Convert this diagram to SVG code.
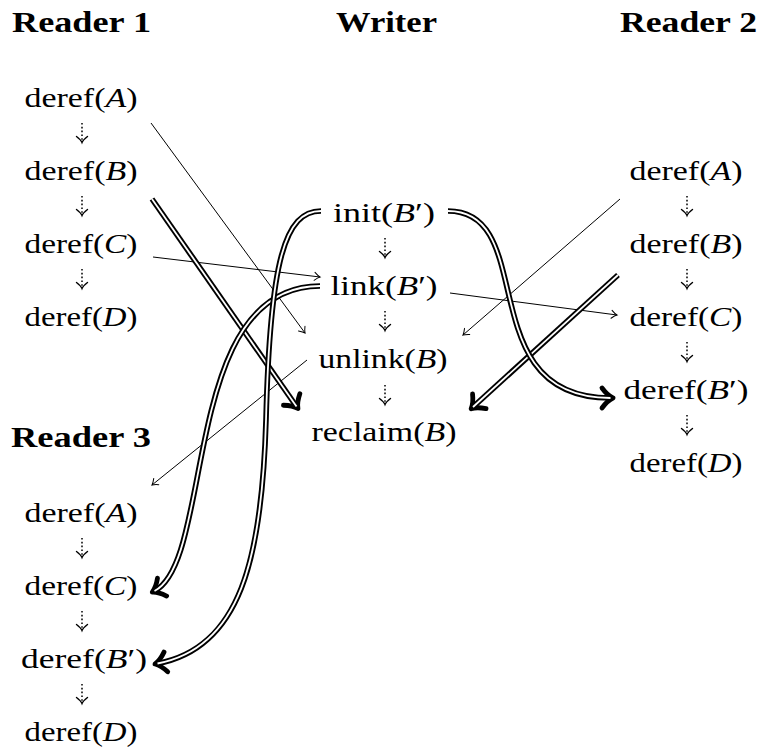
<svg xmlns="http://www.w3.org/2000/svg" width="760" height="755" viewBox="0 0 760 755">
<style>
text{font-family:"Liberation Serif","DejaVu Serif",serif;fill:#000}
.h{font-size:30px;font-weight:bold}
.t{font-size:28px;text-anchor:middle}
.i{font-style:italic}
.thin{fill:none;stroke:#000;stroke-width:1;marker-end:url(#mt)}
.dot{fill:none;stroke:#000;stroke-width:1.5;stroke-dasharray:1.6 2.2;marker-end:url(#md)}
.dblo{fill:none;stroke:#000;stroke-width:5.6;marker-end:url(#mb)}
.dbli{fill:none;stroke:#fff;stroke-width:1.8}
</style>
<defs>
<marker id="mt" viewBox="-10 -10 20 20" markerWidth="20" markerHeight="20" refX="0" refY="0" orient="auto" markerUnits="userSpaceOnUse" overflow="visible">
<path d="M-5.5,-4 Q-2,-0.8 0,0 Q-2,0.8 -5.5,4" fill="none" stroke="#000" stroke-width="1" stroke-linecap="round"/>
</marker>
<marker id="md" viewBox="-10 -10 20 20" markerWidth="20" markerHeight="20" refX="0" refY="0" orient="auto" markerUnits="userSpaceOnUse" overflow="visible">
<path d="M-5.5,-5.5 Q-2,-1 0.5,0 Q-2,1 -5.5,5.5" fill="none" stroke="#000" stroke-width="1.4" stroke-linecap="round"/>
</marker>
<marker id="mb" viewBox="-15 -15 30 30" markerWidth="30" markerHeight="30" refX="0" refY="0" orient="auto" markerUnits="userSpaceOnUse" overflow="visible">
<path d="M-8.5,-10 Q-3,-2.5 2.5,0 Q-3,2.5 -8.5,10" fill="none" stroke="#000" stroke-width="4.8" stroke-linecap="round" stroke-linejoin="round"/>
</marker>
</defs>

<g id="headers">
<text class="h" x="12" y="32" textLength="139" lengthAdjust="spacingAndGlyphs">Reader 1</text>
<text class="h" x="336" y="32" textLength="101" lengthAdjust="spacingAndGlyphs">Writer</text>
<text class="h" x="620" y="32" textLength="137" lengthAdjust="spacingAndGlyphs">Reader 2</text>
<text class="h" x="11" y="447" textLength="140" lengthAdjust="spacingAndGlyphs">Reader 3</text>
</g>

<g id="r1a"><text class="t" x="81" y="107" textLength="113" lengthAdjust="spacingAndGlyphs">deref(<tspan class="i">A</tspan>)</text></g>
<g id="r1b"><text class="t" x="81" y="180" textLength="113" lengthAdjust="spacingAndGlyphs">deref(<tspan class="i">B</tspan>)</text></g>
<g id="r1c"><text class="t" x="81" y="253" textLength="113" lengthAdjust="spacingAndGlyphs">deref(<tspan class="i">C</tspan>)</text></g>
<g id="r1d"><text class="t" x="81" y="326" textLength="113" lengthAdjust="spacingAndGlyphs">deref(<tspan class="i">D</tspan>)</text></g>

<g id="winit"><text class="t" x="384" y="222" textLength="102" lengthAdjust="spacingAndGlyphs">init(<tspan class="i">B</tspan>′)</text></g>
<g id="wlink"><text class="t" x="384" y="295" textLength="107" lengthAdjust="spacingAndGlyphs">link(<tspan class="i">B</tspan>′)</text></g>
<g id="wunlink"><text class="t" x="383" y="368" textLength="129" lengthAdjust="spacingAndGlyphs">unlink(<tspan class="i">B</tspan>)</text></g>
<g id="wreclaim"><text class="t" x="384" y="441" textLength="145" lengthAdjust="spacingAndGlyphs">reclaim(<tspan class="i">B</tspan>)</text></g>

<g id="r2a"><text class="t" x="686" y="180" textLength="113" lengthAdjust="spacingAndGlyphs">deref(<tspan class="i">A</tspan>)</text></g>
<g id="r2b"><text class="t" x="686" y="253" textLength="113" lengthAdjust="spacingAndGlyphs">deref(<tspan class="i">B</tspan>)</text></g>
<g id="r2c"><text class="t" x="686" y="326" textLength="113" lengthAdjust="spacingAndGlyphs">deref(<tspan class="i">C</tspan>)</text></g>
<g id="r2bp"><text class="t" x="686" y="399" textLength="125" lengthAdjust="spacingAndGlyphs">deref(<tspan class="i">B</tspan>′)</text></g>
<g id="r2d"><text class="t" x="686" y="472" textLength="113" lengthAdjust="spacingAndGlyphs">deref(<tspan class="i">D</tspan>)</text></g>

<g id="r3a"><text class="t" x="81" y="522" textLength="113" lengthAdjust="spacingAndGlyphs">deref(<tspan class="i">A</tspan>)</text></g>
<g id="r3c"><text class="t" x="81" y="595" textLength="113" lengthAdjust="spacingAndGlyphs">deref(<tspan class="i">C</tspan>)</text></g>
<g id="r3bp"><text class="t" x="84" y="668" textLength="126" lengthAdjust="spacingAndGlyphs">deref(<tspan class="i">B</tspan>′)</text></g>
<g id="r3d"><text class="t" x="81" y="741" textLength="113" lengthAdjust="spacingAndGlyphs">deref(<tspan class="i">D</tspan>)</text></g>

<g id="connectors">
<path class="dot" d="M82,123 V142"/>
<path class="dot" d="M82,196 V215"/>
<path class="dot" d="M82,269 V288"/>
<path class="dot" d="M385,238 V257"/>
<path class="dot" d="M385,311 V330"/>
<path class="dot" d="M385,385 V404"/>
<path class="dot" d="M687,196 V215"/>
<path class="dot" d="M687,269 V288"/>
<path class="dot" d="M687,342 V361"/>
<path class="dot" d="M687,415 V434"/>
<path class="dot" d="M82,538 V557"/>
<path class="dot" d="M82,611 V630"/>
<path class="dot" d="M82,684 V703"/>
<path class="thin" d="M151,123 L305,333"/>
<path class="thin" d="M153,257 L320,277"/>
<path class="thin" d="M450,293 L617,315"/>
<path class="thin" d="M620,199 L463,335"/>
<path class="thin" d="M307,360 L152,485"/>
<path class="dblo" d="M152,199 L296.5,406.5"/>
<path class="dbli" d="M152,199 L296.5,406.5"/>
<path class="dblo" d="M618,275 L473,407"/>
<path class="dbli" d="M618,275 L473,407"/>
<path class="dblo" d="M448,211 C540,211 470,398 610.5,398"/>
<path class="dbli" d="M448,211 C540,211 470,398 610.5,398"/>
<path class="dblo" d="M320,286 C180,286 215,560 154.5,591"/>
<path class="dbli" d="M320,286 C180,286 215,560 154.5,591"/>
<path class="dblo" d="M321,211 C285,211 270,260 266,420 C262,560 240,648 157.5,663.5"/>
<path class="dbli" d="M321,211 C285,211 270,260 266,420 C262,560 240,648 157.5,663.5"/>
</g>
</svg>
